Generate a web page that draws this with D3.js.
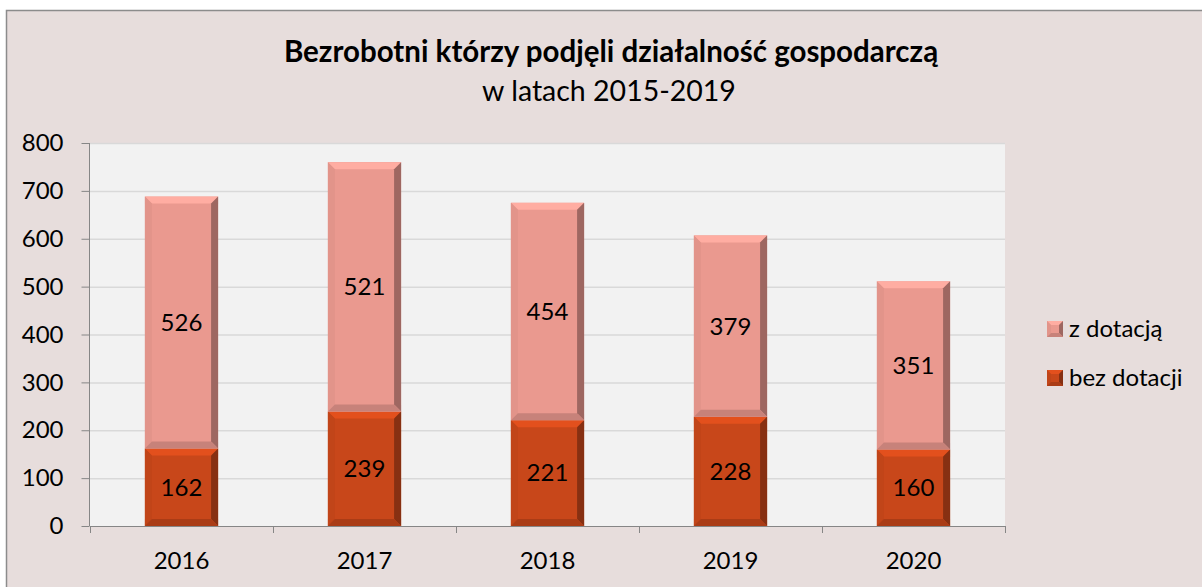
<!DOCTYPE html>
<html>
<head>
<meta charset="utf-8">
<script src="https://cdn.jsdelivr.net/npm/d3@7"></script>
<style>
  body { margin: 0; background: #fff; }
  svg { display: block; font-family: Lato, "Open Sans", sans-serif; }
</style>
</head>
<body>
<svg width="1202" height="587"></svg>
<script>
// data
var years = ["2016", "2017", "2018", "2019", "2020"];
var bezDotacji = [162, 239, 221, 228, 160];
var zDotacja = [526, 521, 454, 379, 351];
var yTicks = [0, 100, 200, 300, 400, 500, 600, 700, 800];

var svg = d3.select("svg"),
    width = +svg.attr("width"),
    height = +svg.attr("height");

var colors = { "bez dotacji": "#c8471a", "z dotacją": "#ea998f" };

// outer frame
svg.append("rect")
  .attr("x", 6.5).attr("y", 10.5)
  .attr("width", width + 10).attr("height", height + 10)
  .attr("fill", "#e7dddc")
  .attr("stroke", "#8c8c8c").attr("stroke-width", 1.5);

var plot = { left: 90, right: 1005, top: 143, bottom: 526 };

svg.append("rect")
  .attr("x", plot.left).attr("y", plot.top)
  .attr("width", plot.right - plot.left).attr("height", plot.bottom - plot.top)
  .attr("fill", "#f2f2f2");

var x = d3.scaleBand().domain(years).range([plot.left, plot.right]).paddingInner(0.6).paddingOuter(0.3);
var xOuter = d3.scaleBand().domain(years).range([plot.left, plot.right]);
var y = d3.scaleLinear().domain([0, 800]).range([plot.bottom, plot.top]);

// gridlines
svg.append("g").selectAll("line")
  .data(yTicks.slice(1))
  .enter().append("line")
    .attr("x1", plot.left).attr("x2", plot.right)
    .attr("y1", function(d) { return y(d) + 0.5; })
    .attr("y2", function(d) { return y(d) + 0.5; })
    .attr("stroke", "#d9d9d9").attr("stroke-width", 1.5);

// y axis
var yAxis = svg.append("g")
  .attr("transform", "translate(" + (plot.left - 0.5) + ",0)")
  .call(d3.axisLeft(y).tickValues(yTicks).tickSize(8).tickPadding(18));
yAxis.select(".domain").attr("stroke", "#868686").attr("d", "M0," + plot.top + "V" + plot.bottom);
yAxis.selectAll(".tick line").attr("stroke", "#868686");
yAxis.selectAll("text").attr("font-size", 24).attr("fill", "#000").attr("font-family", "Lato");

// x axis
var xAxis = svg.append("g")
  .attr("transform", "translate(0," + (plot.bottom + 0.5) + ")")
  .call(d3.axisBottom(xOuter).tickSize(0).tickPadding(25));
xAxis.select(".domain").attr("stroke", "#868686").attr("d", "M" + plot.left + ",0H" + plot.right);
xAxis.selectAll("text").attr("font-size", 24).attr("fill", "#000").attr("font-family", "Lato");
svg.append("g").selectAll("line")
  .data(years.map(function(d) { return xOuter(d); }).concat([plot.right]))
  .enter().append("line")
    .attr("x1", function(d) { return d + 0.5; }).attr("x2", function(d) { return d + 0.5; })
    .attr("y1", plot.bottom).attr("y2", plot.bottom + 7)
    .attr("stroke", "#868686");

// bevel box
function bevelBox(g, x0, y0, w, h, color, b) {
  b = Math.min(b, h / 2, w / 2);
  var c = d3.color(color);
  g.append("rect").attr("x", x0).attr("y", y0).attr("width", w).attr("height", h).attr("fill", color);
  var x1 = x0 + w, y1 = y0 + h;
  var polys = [
    { p: [[x0, y0], [x1, y0], [x1 - b, y0 + b], [x0 + b, y0 + b]], f: c.brighter(0.35) },
    { p: [[x0, y0], [x0 + b, y0 + b], [x0 + b, y1 - b], [x0, y1]], f: c.darker(0.1) },
    { p: [[x1, y0], [x1, y1], [x1 - b, y1 - b], [x1 - b, y0 + b]], f: c.darker(1.1) },
    { p: [[x0, y1], [x0 + b, y1 - b], [x1 - b, y1 - b], [x1, y1]], f: c.darker(0.45) }
  ];
  polys.forEach(function(q) {
    g.append("polygon").attr("points", q.p.map(function(pt) { return pt.join(","); }).join(" ")).attr("fill", q.f);
  });
}

var stacks = years.map(function(yr, i) {
  return [
    { year: yr, name: "bez dotacji", y0: 0, y1: bezDotacji[i], v: bezDotacji[i] },
    { year: yr, name: "z dotacją", y0: bezDotacji[i], y1: bezDotacji[i] + zDotacja[i], v: zDotacja[i] }
  ];
});

var bars = svg.append("g");
stacks.forEach(function(st) {
  st.forEach(function(s) {
    var g = bars.append("g");
    var top = y(s.y1), bot = y(s.y0);
    bevelBox(g, x(s.year), top, x.bandwidth(), bot - top, colors[s.name], 7);
    g.append("text")
      .attr("x", x(s.year) + x.bandwidth() / 2)
      .attr("y", (top + bot) / 2)
      .attr("dy", "0.35em")
      .attr("text-anchor", "middle")
      .attr("font-size", 24)
      .attr("fill", "#000")
      .text(s.v);
  });
});

// title
svg.append("text")
  .attr("x", 611).attr("y", 62)
  .attr("text-anchor", "middle")
  .attr("font-size", 29.5).attr("font-weight", "bold")
  .text("Bezrobotni którzy podjęli działalność gospodarczą");
svg.append("text")
  .attr("x", 609).attr("y", 101)
  .attr("text-anchor", "middle")
  .attr("font-size", 28.5)
  .text("w latach 2015-2019");

// legend
var legendItems = ["z dotacją", "bez dotacji"];
var legend = svg.append("g");
legendItems.forEach(function(name, i) {
  var ly = 321 + i * 49;
  bevelBox(legend.append("g"), 1047, ly, 16, 16, colors[name], 4);
  legend.append("text")
    .attr("x", 1069).attr("y", ly + 8)
    .attr("dy", "0.35em")
    .attr("font-size", 24)
    .text(name);
});
</script>
</body>
</html>
